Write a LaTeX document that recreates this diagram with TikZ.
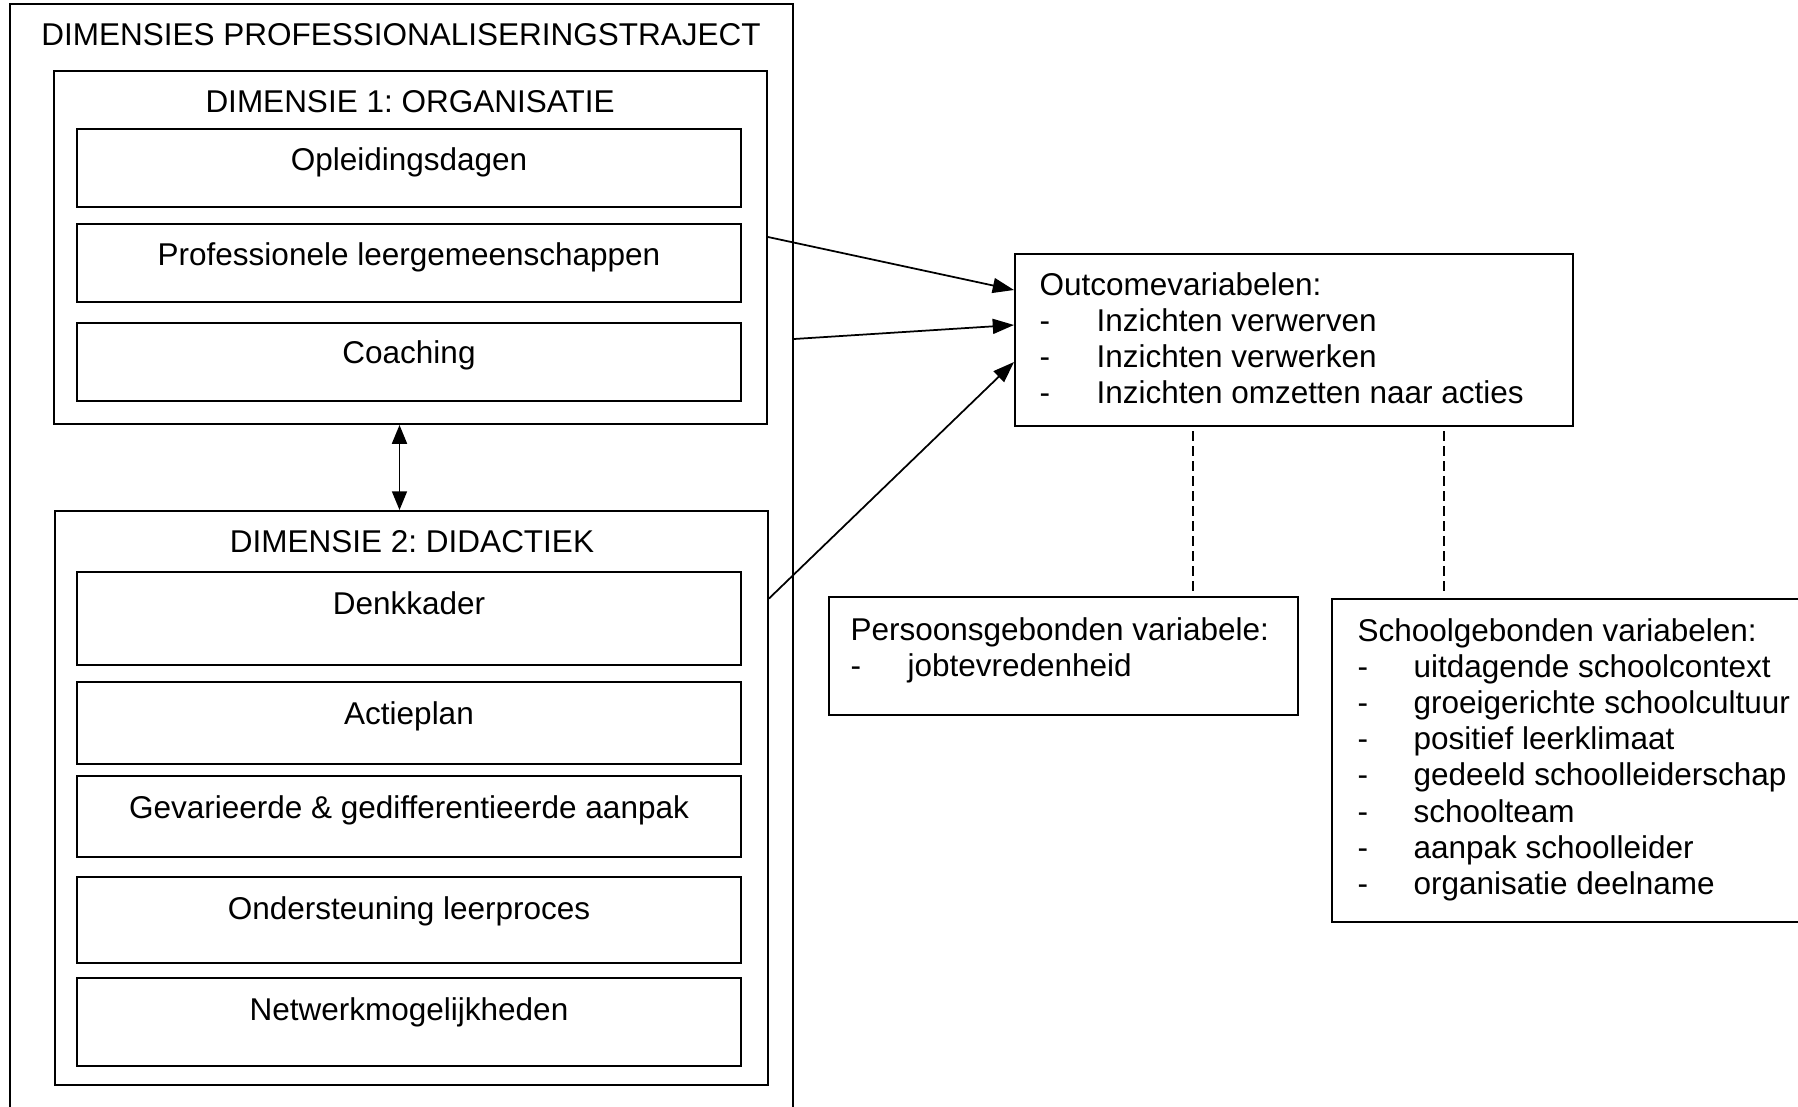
\documentclass[tikz,border=0pt]{standalone}
\usepackage{fontspec}
\setmainfont{Liberation Sans}
\usetikzlibrary{arrows.meta,fit}
\newcommand\myfs{\fontsize{12.6}{14.5}\selectfont}
\frenchspacing
\begin{document}
\begin{tikzpicture}[x=0.4pt,y=-0.4pt,
 box/.style={draw,line width=0.8pt,inner sep=0pt},
 ctext/.style={font=\myfs,inner sep=0pt,anchor=base},
 ltext/.style={font=\myfs,inner sep=0pt,anchor=base west},
 arr/.style={-{Triangle[length=8.5pt,width=6pt]},line width=0.7pt},
 darr/.style={{Triangle[length=7.5pt,width=6pt]}-{Triangle[length=7.5pt,width=6pt]},line width=0.7pt},
 dsh/.style={line width=0.5pt,dash pattern=on 4pt off 2pt}]
\clip (0,0) rectangle (1798,1106);
\fill[white] (0,0) rectangle (1798,1106);
% left part
\node[box,fit={(10,4) (793,1130)}] (outer) {};
\node[ctext] (tout) at (401,45) {DIMENSIES PROFESSIONALISERINGSTRAJECT};
\node[box,fit={(54,71) (767,424)}] (dim1) {};
\node[ctext] (tdim1) at (410,112) {DIMENSIE 1: ORGANISATIE};
\node[box,fit={(76.5,129) (741,207)}] (o1) {};
\node[ctext] (to1) at (409,170) {Opleidingsdagen};
\node[box,fit={(76.5,224) (741,302)}] (o2) {};
\node[ctext] (to2) at (409,265) {Professionele leergemeenschappen};
\node[box,fit={(76.5,323) (741,401)}] (o3) {};
\node[ctext] (to3) at (409,363) {Coaching};
\node[box,fit={(55,511) (768,1085)}] (dim2) {};
\node[ctext] (tdim2) at (412,552) {DIMENSIE 2: DIDACTIEK};
\node[box,fit={(76.5,572) (741,665)}] (d1) {};
\node[ctext] (td1) at (409,614) {Denkkader};
\node[box,fit={(76.5,682) (741,764)}] (d2) {};
\node[ctext] (td2) at (409,724) {Actieplan};
\node[box,fit={(76.5,776) (741,857)}] (d3) {};
\node[ctext] (td3) at (409,818) {Gevarieerde \& gedifferentieerde aanpak};
\node[box,fit={(76.5,877) (741,963)}] (d4) {};
\node[ctext] (td4) at (409,919) {Ondersteuning leerproces};
\node[box,fit={(76.5,978) (741,1066)}] (d5) {};
\node[ctext] (td5) at (409,1020) {Netwerkmogelijkheden};
% right part
\node[box,fit={(1015,254) (1573,426)}] (outc) {};
\node[ltext] (oh) at (1039,295) {Outcomevariabelen:};
\node[ltext] (od1) at (1039,331) {-};
\node[ltext] (oi1) at (1096,331) {Inzichten verwerven};
\node[ltext] (od2) at (1039,367) {-};
\node[ltext] (oi2) at (1096,367) {Inzichten verwerken};
\node[ltext] (od3) at (1039,403) {-};
\node[ltext] (oi3) at (1096,403) {Inzichten omzetten naar acties};
\node[box,fit={(829,597) (1298,715)}] (pers) {};
\node[ltext] (ph) at (850,640) {Persoonsgebonden variabele:};
\node[ltext] (pd1) at (850,676) {-};
\node[ltext] (pi1) at (907,676) {jobtevredenheid};
\node[box,fit={(1332,599) (1830,922)}] (school) {};
\node[ltext] (sh) at (1357,641) {Schoolgebonden variabelen:};
\foreach \t [count=\i] in {uitdagende schoolcontext,groeigerichte schoolcultuur,positief leerklimaat,gedeeld schoolleiderschap,schoolteam,aanpak schoolleider,organisatie deelname}{
  \node[ltext] (sd\i) at (1357,641+36.2*\i) {-};
  \node[ltext] (si\i) at (1413,641+36.2*\i) {\t};
}
% connectors
\draw[darr] (399.5,0 |- dim1.south) -- (399.5,0 |- dim2.north);
\draw[arr] (dim1.east |- 0,237) -- (outc.west |- 0,290);
\draw[arr] (outer.east |- 0,339) -- (outc.west |- 0,325);
\draw[arr] (dim2.east |- 0,598.5) -- (outc.west |- 0,362);
\draw[dsh,shorten <=1.6pt,shorten >=2pt] (outc.south -| 1193,0) -- (pers.north -| 1193,0);
\draw[dsh,shorten <=1.6pt,shorten >=2.6pt] (outc.south -| 1444,0) -- (school.north -| 1444,0);
\end{tikzpicture}
\end{document}
